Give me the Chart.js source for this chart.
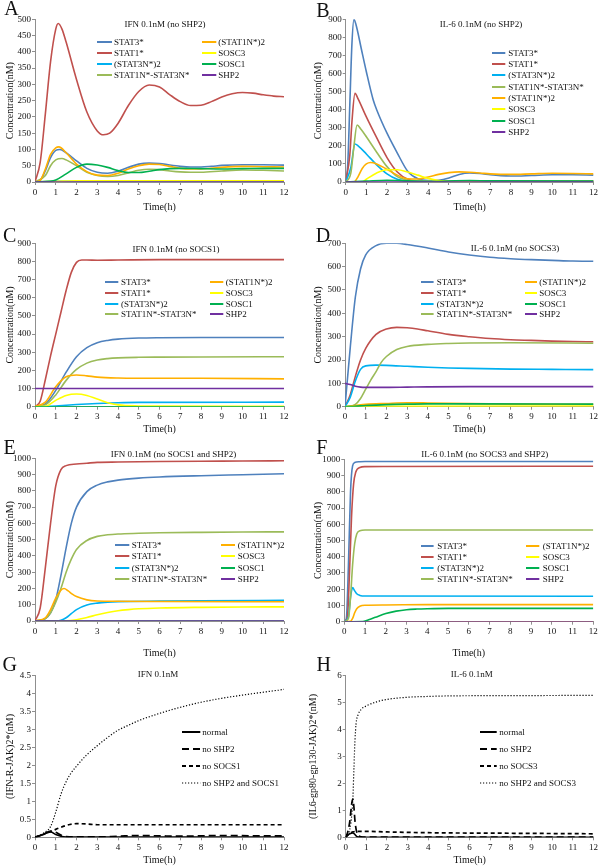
<!DOCTYPE html>
<html><head><meta charset="utf-8">
<script src="https://cdn.jsdelivr.net/npm/chart.js@4.4.1/dist/chart.umd.min.js"></script>
<style>
html,body{margin:0;padding:0;background:#fff;}
body{width:600px;height:868px;position:relative;overflow:hidden;font-family:'Liberation Serif','Times New Roman',serif;color:#111;}
canvas{position:absolute;}
.t{position:absolute;white-space:nowrap;line-height:11px;font-size:9px;transform:translate(-50%,-50%);}
.lg{position:absolute;white-space:nowrap;line-height:11px;font-size:9px;transform:translateY(-50%);}
.lt{position:absolute;font-size:20px;line-height:24px;transform:translate(-50%,-50%);}
svg{position:absolute;overflow:visible;}
</style></head><body>
<script>
// ---------- labels ----------
const SERIES = ['STAT3*','STAT1*','(STAT3N*)2','STAT1N*-STAT3N*','(STAT1N*)2','SOSC3','SOSC1','SHP2'];
const COLORS = ['#4F81BD','#C0504D','#00B0F0','#9BBB59','#FFB000','#FFFF00','#00B050','#7030A0'];
const RECEPTOR_G = ['normal','no SHP2','no SOCS1','no SHP2 and SOCS1'];
const RECEPTOR_H = ['normal','no SHP2','no SOCS3','no SHP2 and SOCS3'];
const X_TICKS = [0,1,2,3,4,5,6,7,8,9,10,11,12];

// ---------- A: IFN 0.1nM (no SHP2) ----------
const A_STAT3 = [[0,0],[0.25,5],[0.5,35],[0.75,75],[1,97],[1.2,100],[1.5,90],[2,65],[2.5,42],[3,30],[3.5,27],[4,33],[4.5,45],[5,55],[5.5,58],[6,57],[6.5,52],[7,48],[7.5,46],[8,46],[8.5,48],[9,51],[10,53],[11,53],[12,52]];
const A_STAT1 = [[0,0],[0.25,60],[0.5,210],[0.75,370],[1,470],[1.12,487],[1.3,470],[1.5,430],[2,315],[2.5,215],[3,157],[3.3,145],[3.6,150],[4,180],[4.5,235],[5,278],[5.5,298],[6,292],[6.5,268],[7,247],[7.5,235],[8,236],[8.5,247],[9,261],[9.5,271],[10,275],[10.5,273],[11,268],[11.5,264],[12,262]];
const A_STAT3N2 = [[0,0],[1,2],[3,2],[6,2],[12,2]];
const A_HET = [[0,0],[0.5,20],[0.75,50],[1,68],[1.3,72],[1.5,68],[2,50],[2.5,30],[3,20],[3.5,17],[4,20],[4.5,28],[5,36],[5.5,39],[6,38],[6.5,34],[7,31],[7.5,30],[8,30],[9,34],[10,37],[11,36],[12,34]];
const A_STAT1N2 = [[0,0],[0.25,5],[0.5,40],[0.75,85],[1,105],[1.15,108],[1.5,90],[2,55],[2.5,32],[3,21],[3.5,20],[4,27],[4.5,40],[5,50],[5.5,55],[6,54],[6.5,48],[7,42],[7.5,40],[8,40],[8.5,42],[9,45],[10,48],[11,47],[12,46]];
const A_SOCS3 = [[0,0],[1,2],[2,4],[4,4],[12,4]];
const A_SOCS1 = [[0,0],[0.7,2],[1,6],[1.5,25],[2,45],[2.5,55],[3,52],[3.5,45],[4,35],[4.5,29],[5,29],[5.5,33],[6,38],[6.5,41],[7,42],[8,41],[9,40],[10,41],[11,42],[12,42]];
const A_SHP2 = [[0,0],[12,0]];

// ---------- B: IL-6 0.1nM (no SHP2) ----------
const B_STAT3 = [[0,0],[0.1,100],[0.2,430],[0.3,760],[0.4,900],[0.5,870],[0.75,740],[1,610],[1.33,455],[1.5,400],[2,270],[2.5,160],[3,60],[3.5,18],[4,8],[4.5,10],[5,22],[5.5,42],[6,50],[6.5,47],[7,40],[7.5,35],[8,33],[9,36],[10,40],[11,40],[12,38]];
const B_STAT1 = [[0,0],[0.2,150],[0.3,330],[0.45,490],[0.6,460],[1,360],[1.5,245],[2,135],[2.5,55],[3,15],[3.5,5],[4,3],[12,5]];
const B_STAT3N2 = [[0,0],[0.25,80],[0.45,210],[0.6,200],[1,155],[1.5,95],[2,45],[2.5,15],[3,5],[12,3]];
const B_HET = [[0,0],[0.25,50],[0.4,200],[0.55,315],[0.75,290],[1,250],[1.5,165],[2,85],[2.5,30],[3,10],[3.5,5],[12,5]];
const B_STAT1N2 = [[0,0],[0.4,0],[0.6,30],[0.8,75],[1,100],[1.2,108],[1.5,100],[2,70],[2.5,38],[3,18],[3.5,17],[4,28],[4.5,42],[5,52],[5.5,56],[6,54],[6.5,50],[7,45],[8,42],[9,45],[10,48],[11,47],[12,45]];
const B_SOCS3 = [[0,0],[0.8,0],[1,15],[1.5,50],[2,68],[2.5,68],[3,55],[3.5,38],[4,20],[4.5,8],[5,3],[6,2],[12,2]];
const B_SOCS1 = [[0,0],[1,5],[2,10],[3,6],[4,3],[6,8],[7,6],[12,5]];
const B_SHP2 = [[0,0],[12,0]];

// ---------- C: IFN 0.1nM (no SOCS1) ----------
const C_STAT3 = [[0,0],[0.5,15],[1,90],[1.5,190],[2,275],[2.5,325],[3,352],[3.5,365],[4,372],[5,378],[6,380],[8,381],[12,381]];
const C_STAT1 = [[0,0],[0.25,30],[0.5,150],[0.75,280],[1,400],[1.25,520],[1.5,640],[1.75,740],[2,795],[2.25,808],[2.5,808],[3,807],[4,808],[6,810],[12,810]];
const C_STAT3N2 = [[0,0],[1,4],[1.5,8],[2,12],[3,18],[4,22],[5,24],[12,25]];
const C_HET = [[0,0],[0.5,10],[1,65],[1.5,145],[2,205],[2.5,240],[3,257],[3.5,265],[4,269],[5,272],[6,273],[8,274],[12,275]];
const C_STAT1N2 = [[0,0],[0.5,25],[1,110],[1.5,165],[2,175],[2.5,170],[3,163],[4,158],[5,157],[8,157],[12,153]];
const C_SOCS3 = [[0,0],[0.5,2],[1,35],[1.5,62],[2,70],[2.5,62],[3,42],[3.5,22],[4,10],[5,4],[6,3],[12,2]];
const C_SOCS1 = [[0,0],[12,0]];
const C_SHP2 = [[0,100],[12,100]];

// ---------- D: IL-6 0.1nM (no SOCS3) ----------
const D_STAT3 = [[0,0],[0.25,250],[0.5,470],[0.75,590],[1,650],[1.5,690],[2,700],[2.5,700],[3,695],[4,680],[5,663],[6,650],[7,640],[8,634],[9,630],[10,627],[11,624],[12,623]];
const D_STAT1 = [[0,0],[0.25,50],[0.5,130],[0.75,200],[1,250],[1.5,310],[2,333],[2.5,340],[3,338],[3.5,333],[4,325],[5,310],[6,300],[7,292],[8,287],[9,284],[10,281],[11,279],[12,278]];
const D_STAT3N2 = [[0,0],[0.25,40],[0.5,110],[0.75,160],[1,175],[1.5,178],[2,177],[3,173],[4,169],[5,166],[6,164],[8,161],[10,160],[12,159]];
const D_HET = [[0,0],[0.5,10],[0.75,35],[1,75],[1.25,115],[1.5,150],[1.75,190],[2,215],[2.5,245],[3,258],[4,267],[5,271],[6,273],[8,274],[12,272]];
const D_STAT1N2 = [[0,0],[0.5,5],[1,10],[2,14],[3,17],[4,16],[6,13],[8,11],[12,10]];
const D_SOCS3 = [[0,0],[1,1],[2,2],[12,3]];
const D_SOCS1 = [[0,0],[0.5,2],[1,5],[2,9],[3,11],[4,12],[6,12],[12,11]];
const D_SHP2 = [[0,100],[0.25,95],[0.5,88],[0.75,84],[1,83],[2,83],[3,84],[4,85],[6,86],[12,86]];

// ---------- E: IFN 0.1nM (no SOCS1 and SHP2) ----------
const E_STAT3 = [[0,0],[0.5,15],[0.75,50],[1,130],[1.25,280],[1.5,450],[1.75,600],[2,700],[2.5,795],[3,835],[3.5,855],[4,866],[5,878],[6,885],[8,893],[10,899],[12,905]];
const E_STAT1 = [[0,0],[0.25,80],[0.5,330],[0.75,600],[1,830],[1.25,930],[1.5,955],[2,965],[2.5,970],[3,975],[4,977],[6,980],[8,982],[10,983],[12,985]];
const E_STAT3N2 = [[0,0],[1,1],[1.25,5],[1.5,20],[1.75,45],[2,70],[2.5,98],[3,110],[3.5,116],[4,119],[6,122],[8,124],[12,127]];
const E_HET = [[0,0],[0.5,15],[0.75,50],[1,115],[1.25,200],[1.5,300],[1.75,380],[2,440],[2.5,495],[3,520],[3.5,530],[4,535],[5,539],[6,542],[8,545],[10,547],[12,548]];
const E_STAT1N2 = [[0,0],[0.5,20],[0.75,70],[1,140],[1.25,190],[1.4,200],[1.6,185],[1.8,165],[2,150],[2.5,130],[3,123],[4,121],[6,120],[12,118]];
const E_SOCS3 = [[0,0],[1.5,1],[2,8],[2.5,22],[3,38],[3.5,52],[4,63],[4.5,70],[5,75],[6,80],[8,84],[10,86],[12,87]];
const E_SOCS1 = [[0,0],[12,0]];
const E_SHP2 = [[0,0],[12,0]];

// ---------- F: IL-6 0.1nM (no SOCS3 and SHP2) ----------
const F_STAT3 = [[0,0],[0.1,20],[0.2,350],[0.3,800],[0.4,960],[0.5,980],[0.75,985],[1,986],[12,986]];
const F_STAT1 = [[0,0],[0.15,30],[0.25,300],[0.35,650],[0.45,850],[0.55,920],[0.75,950],[1,955],[2,956],[12,957]];
const F_STAT3N2 = [[0,0],[0.2,30],[0.3,150],[0.4,210],[0.5,190],[0.6,172],[0.75,162],[1,158],[12,157]];
const F_HET = [[0,0],[0.2,20],[0.3,150],[0.4,350],[0.5,480],[0.6,540],[0.75,560],[1,565],[12,565]];
const F_STAT1N2 = [[0,0],[0.3,2],[0.4,20],[0.5,55],[0.6,80],[0.75,95],[1,101],[2,103],[4,105],[12,105]];
const F_SOCS3 = [[0,0],[12,0]];
const F_SOCS1 = [[0,0],[0.9,1],[1.25,15],[1.5,27],[2,50],[2.5,65],[3,74],[3.5,78],[4,80],[5,82],[12,82]];
const F_SHP2 = [[0,0],[12,0]];

// ---------- G: IFN 0.1nM, (IFN-R-JAK)2* ----------
const G_normal = [[0,0],[0.3,0.06],[0.6,0.13],[0.75,0.15],[1,0.08],[1.25,0.03],[1.5,0.01],[2,0.01],[4,0.01],[12,0.01]];
const G_noSHP2 = [[0,0],[0.4,0.08],[0.75,0.17],[1,0.14],[1.25,0.06],[1.5,0.02],[2,0.01],[3,0.01],[4,0.03],[5,0.05],[6,0.04],[7,0.03],[8,0.04],[8.75,0.05],[9.5,0.05],[10.5,0.04],[12,0.04]];
const G_noSOCS1 = [[0,0],[0.5,0.1],[1,0.22],[1.5,0.33],[2,0.38],[2.5,0.37],[3,0.35],[4,0.35],[12,0.35]];
const G_both = [[0,0],[0.5,0.15],[0.75,0.3],[1,0.7],[1.25,1.2],[1.5,1.55],[1.75,1.8],[2,1.98],[2.5,2.3],[3,2.55],[3.5,2.78],[4,2.98],[4.5,3.12],[5,3.25],[6,3.45],[7,3.62],[8,3.76],[9,3.87],[10,3.96],[11,4.04],[12,4.12]];

// ---------- H: IL-6 0.1nM, (IL6-gp80-gp130-JAK)2* ----------
const H_normal = [[0,0],[0.1,0.08],[0.2,0.13],[0.35,0.16],[0.45,0.1],[0.55,0.02],[0.7,0],[12,0]];
const H_noSHP2 = [[0,0],[0.1,0.2],[0.2,0.6],[0.3,1.3],[0.35,1.42],[0.4,1.1],[0.45,0.6],[0.55,0.15],[0.7,0.03],[1,0.01],[12,0.01]];
const H_noSOCS3 = [[0,0],[0.1,0.08],[0.2,0.15],[0.35,0.2],[0.5,0.22],[1,0.22],[2,0.2],[4,0.17],[8,0.15],[12,0.13]];
const H_both = [[0,0],[0.1,0.1],[0.2,0.3],[0.3,0.9],[0.35,1.5],[0.4,2.6],[0.45,3.6],[0.5,4.2],[0.6,4.55],[0.75,4.75],[1,4.88],[1.5,5.03],[2,5.12],[3,5.2],[4,5.23],[5,5.25],[8,5.26],[12,5.27]];

// ---------- helpers ----------
const FONT = "'Liberation Serif','Times New Roman',serif";
Chart.defaults.font.family = FONT;
Chart.defaults.color = '#111';
const NS = 'http://www.w3.org/2000/svg';
const AXIS = '#8f8f8f';

function pts(a){ return a.map(p => ({x:p[0], y:p[1]})); }

function colorSets(list){
  return list.map((arr,i) => ({label:SERIES[i], data:pts(arr), borderColor:COLORS[i], backgroundColor:COLORS[i],
    borderWidth:1.6, order:list.length-i, cubicInterpolationMode:'monotone', pointRadius:0, fill:false}));
}
const DASHES = [[], [7,4], [4,3], [1.2,1.8]];
const WIDTHS = [1.6, 1.7, 1.7, 1.2];
function bwSets(list, labels){
  return list.map((arr,i) => ({label:labels[i], data:pts(arr), borderColor:'#000', borderDash:DASHES[i],
    borderWidth:WIDTHS[i], order:list.length-i, cubicInterpolationMode:'monotone', pointRadius:0, fill:false}));
}

function makeChart(box, plot, yMax, yStep, yTitle, timeY, yTitleX, datasets){
  const c = document.createElement('canvas');
  c.width = box.w; c.height = box.h;
  c.style.left = box.x+'px'; c.style.top = box.y+'px';
  c.style.width = box.w+'px'; c.style.height = box.h+'px';
  document.body.appendChild(c);
  new Chart(c, {
    type:'line',
    data:{datasets},
    options:{
      responsive:false, animation:false,
      layout:{padding:{left:0, top:plot.t-box.y, right:box.x+box.w-plot.r, bottom:0}},
      plugins:{legend:{display:false}, tooltip:{enabled:false}},
      scales:{
        x:{type:'linear', min:0, max:12,
           afterFit(s){ s.height = box.y+box.h-plot.b; },
           afterBuildTicks(s){ s.ticks = X_TICKS.map(v => ({value:v})); },
           ticks:{callback:v=>String(v), font:{size:9}, color:'#111', padding:2, maxRotation:0, autoSkip:false},
           grid:{drawOnChartArea:false, drawTicks:true, tickLength:3, color:AXIS},
           border:{color:AXIS},
           title:{display:true, text:'Time(h)', font:{size:10}, color:'#111', padding:{top:0, bottom:Math.max(0, box.y+box.h-timeY-6)}}},
        y:{type:'linear', min:0, max:yMax,
           afterFit(s){ s.width = plot.l-box.x; },
           ticks:{stepSize:yStep, callback:v=>String(v), font:{size:9}, color:'#111', padding:1, autoSkip:false},
           grid:{drawOnChartArea:false, drawTicks:true, tickLength:3, color:AXIS},
           border:{color:AXIS},
           title:{display:true, text:yTitle, font:{size:10}, color:'#111', padding:{top:yTitleX-box.x-6, bottom:0}}}
      }
    }
  });
}

function div(cls, text, x, y){
  const d = document.createElement('div');
  d.className = cls; d.textContent = text;
  d.style.left = x+'px'; d.style.top = y+'px';
  document.body.appendChild(d); return d;
}
function swatch(x1, x2, y, color, dash, w){
  const s = document.createElementNS(NS,'svg');
  s.setAttribute('width', x2-x1); s.setAttribute('height', 6);
  s.style.left = x1+'px'; s.style.top = (y-3)+'px';
  const l = document.createElementNS(NS,'line');
  l.setAttribute('x1',0); l.setAttribute('x2',x2-x1); l.setAttribute('y1',3); l.setAttribute('y2',3);
  l.setAttribute('stroke', color); l.setAttribute('stroke-width', w);
  if (dash && dash.length) l.setAttribute('stroke-dasharray', dash.join(' '));
  s.appendChild(l); document.body.appendChild(s);
}
function colorLegend(cols, rows){
  for (let i=0;i<SERIES.length;i++){
    const per = rows.length;
    const c = cols[Math.floor(i/per)], r = rows[i%per];
    swatch(c.x1, c.x2, r, COLORS[i], null, 2);
    div('lg', SERIES[i], c.tx, r);
  }
}
function bwLegend(col, rows, labels){
  labels.forEach((lab,i) => {
    swatch(col.x1, col.x2, rows[i], '#000', DASHES[i], i===3 ? 1.2 : 2);
    div('lg', lab, col.tx, rows[i]);
  });
}

// ---------- panels ----------
const CONC = 'Concentration(nM)';

makeChart({x:0,y:0,w:300,h:214},{l:35,t:19.3,r:284,b:182},500,50,CONC,207,10,
  colorSets([A_STAT3,A_STAT1,A_STAT3N2,A_HET,A_STAT1N2,A_SOCS3,A_SOCS1,A_SHP2]));
makeChart({x:300,y:0,w:300,h:214},{l:345.7,t:19.3,r:594,b:182},900,100,CONC,207,318.3,
  colorSets([B_STAT3,B_STAT1,B_STAT3N2,B_HET,B_STAT1N2,B_SOCS3,B_SOCS1,B_SHP2]));
makeChart({x:0,y:214,w:300,h:222},{l:35,t:243.3,r:284,b:406.7},900,100,CONC,429.3,10,
  colorSets([C_STAT3,C_STAT1,C_STAT3N2,C_HET,C_STAT1N2,C_SOCS3,C_SOCS1,C_SHP2]));
makeChart({x:300,y:214,w:300,h:222},{l:345,t:243.3,r:595,b:406.7},700,100,CONC,429.3,318,
  colorSets([D_STAT3,D_STAT1,D_STAT3N2,D_HET,D_STAT1N2,D_SOCS3,D_SOCS1,D_SHP2]));
makeChart({x:0,y:436,w:300,h:226},{l:35,t:458.3,r:284,b:621},1000,100,CONC,653,10,
  colorSets([E_STAT3,E_STAT1,E_STAT3N2,E_HET,E_STAT1N2,E_SOCS3,E_SOCS1,E_SHP2]));
makeChart({x:300,y:436,w:300,h:226},{l:344.3,t:459.3,r:593.3,b:621.7},1000,100,CONC,653,318,
  colorSets([F_STAT3,F_STAT1,F_STAT3N2,F_HET,F_STAT1N2,F_SOCS3,F_SOCS1,F_SHP2]));
makeChart({x:0,y:660,w:300,h:208},{l:35,t:675.7,r:284,b:837.3},4.5,0.5,'(IFN-R-JAK)2*(nM)',860.7,10,
  bwSets([G_normal,G_noSHP2,G_noSOCS1,G_both], RECEPTOR_G));
makeChart({x:300,y:660,w:300,h:208},{l:345.7,t:675.7,r:595,b:837.3},6,1,'(IL6-gp80-gp130-JAK)2*(nM)',860.7,313.3,
  bwSets([H_normal,H_noSHP2,H_noSOCS3,H_both], RECEPTOR_H));

// titles
div('t','IFN 0.1nM (no SHP2)',165,24.3);
div('t','IL-6 0.1nM (no SHP2)',481,24);
div('t','IFN 0.1nM (no SOCS1)',176,249);
div('t','IL-6 0.1nM (no SOCS3)',515,247.7);
div('t','IFN 0.1nM (no SOCS1 and SHP2)',173.5,454.3);
div('t','IL-6 0.1nM (no SOCS3 and SHP2)',484.7,454.3);
div('t','IFN 0.1nM',158,674.3);
div('t','IL-6 0.1nM',471.7,674.3);

// panel letters
div('lt','A',11.5,8.3); div('lt','B',323,9.7);
div('lt','C',9.7,235); div('lt','D',323,235);
div('lt','E',9.7,447); div('lt','F',321.7,447);
div('lt','G',9.7,664.3); div('lt','H',323.7,664.3);

// legends
colorLegend([{x1:96.7,x2:111.7,tx:114},{x1:201.7,x2:216,tx:218.3}],[41.7,52.7,63.7,74.7]);
colorLegend([{x1:491.7,x2:505,tx:508.3}],[52.7,64,75.3,86.6,97.9,109.2,120.5,131.8]);
colorLegend([{x1:105,x2:118.3,tx:121},{x1:210,x2:223.3,tx:225.7}],[281.7,292.7,303.5,314.3]);
colorLegend([{x1:420.7,x2:433.3,tx:436.7},{x1:525,x2:537,tx:539.3}],[281.7,292.7,303.5,314.3]);
colorLegend([{x1:115,x2:129.3,tx:131.7},{x1:221,x2:235,tx:237.7}],[545,556.3,567.7,579]);
colorLegend([{x1:420.7,x2:433.3,tx:437.3},{x1:526,x2:539.3,tx:542.7}],[546,557,568,579.3]);
bwLegend({x1:181.7,x2:200,tx:202.3},[731.5,748.7,766,783.3],RECEPTOR_G);
bwLegend({x1:480,x2:496.7,tx:499.3},[731.5,748.7,766,783.3],RECEPTOR_H);
</script>
</body></html>
